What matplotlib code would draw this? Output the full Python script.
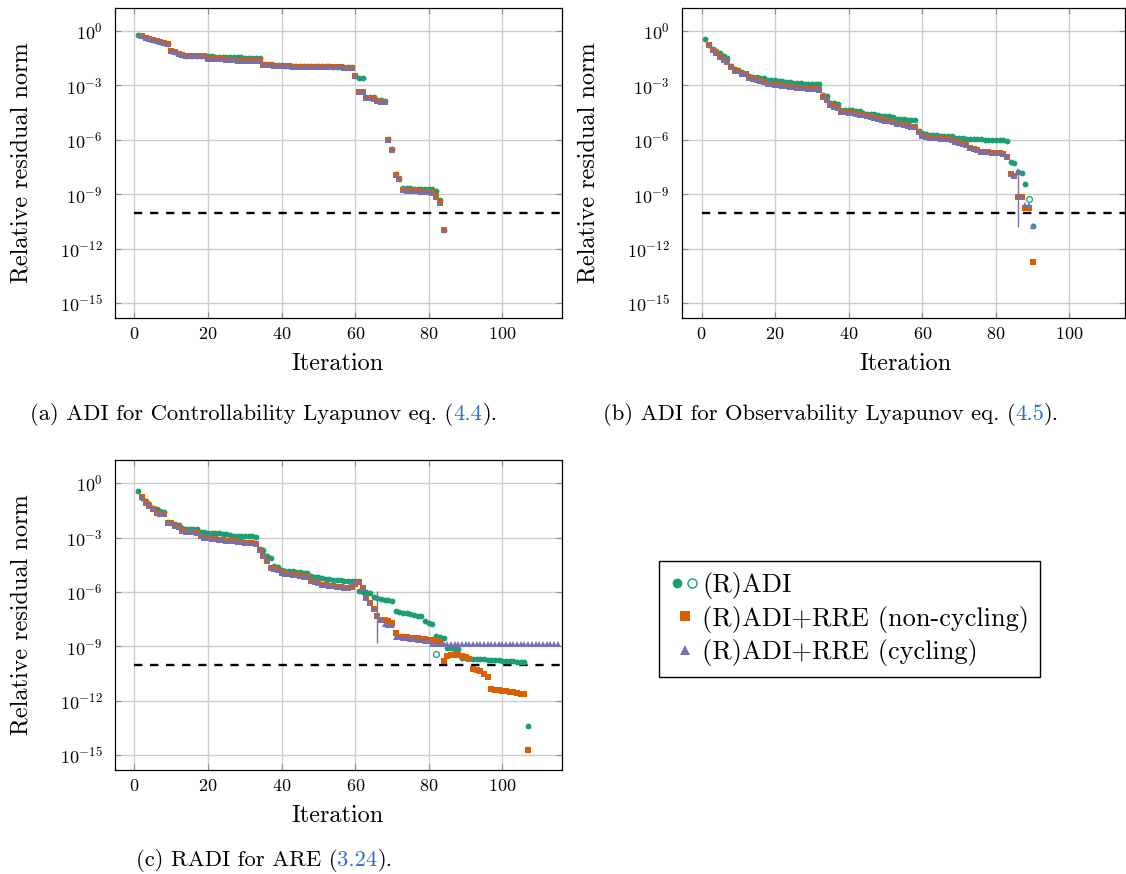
import matplotlib
matplotlib.use('Agg')
import matplotlib.pyplot as plt
import numpy as np
from matplotlib.legend_handler import HandlerTuple
from matplotlib.lines import Line2D
from matplotlib.ticker import NullLocator

plt.rcParams['font.family'] = 'serif'
plt.rcParams['font.serif'] = ['cmr10']
plt.rcParams['mathtext.fontset'] = 'cm'
plt.rcParams['axes.unicode_minus'] = False
plt.rcParams['axes.formatter.use_mathtext'] = True

GREEN = '#1b9e77'
ORANGE = '#d95f02'
PURPLE = '#7570b3'
LINK = '#2a6fd3'

# residual histories, stored as log10 of the relative residual norm
# (R)ADI starts at iteration 1, the RRE variants at iteration 2

# (a) controllability Lyapunov equation
a_adi = [-0.22, -0.30, -0.36, -0.42, -0.50, -0.56, -0.62, -0.68, -0.74,
         -1.10, -1.15, -1.25, -1.32,
         -1.35, -1.36, -1.36, -1.37, -1.37, -1.38,
         -1.40, -1.40, -1.41, -1.41, -1.42, -1.42, -1.43, -1.44,
         -1.45, -1.45, -1.46, -1.46, -1.47, -1.47, -1.48,
         -1.80, -1.82, -1.84, -1.85, -1.86, -1.87,
         -1.90, -1.90, -1.91, -1.91, -1.92, -1.92, -1.93, -1.93, -1.94, -1.94,
         -1.95, -1.95, -1.95, -1.96, -1.96, -1.96, -1.97, -1.97, -1.97,
         -2.45, -2.57, -2.58,
         -3.62, -3.64, -3.66, -3.80, -3.82, -3.84,
         -5.95, -6.50, -7.90, -8.15,
         -8.65, -8.66, -8.67, -8.68, -8.69, -8.70, -8.71, -8.72, -8.73,
         -8.80, -9.30, -10.95]
a_rre = [-0.30, -0.37, -0.43, -0.50, -0.56, -0.62, -0.68, -0.72,
         -1.10, -1.16, -1.26, -1.33,
         -1.36, -1.37, -1.38, -1.38, -1.39, -1.40,
         -1.54, -1.55, -1.55, -1.56, -1.56, -1.57,
         -1.62, -1.62, -1.63, -1.63, -1.64, -1.64, -1.65, -1.65, -1.66,
         -1.86, -1.88, -1.89, -1.90, -1.91, -1.92,
         -1.95, -1.95, -1.96, -1.96, -1.97, -1.97, -1.97, -1.98, -1.98, -1.98,
         -1.99, -1.99, -1.99, -2.00, -2.00, -2.00, -2.01, -2.01, -2.01,
         -2.45, -3.35, -3.36,
         -3.68, -3.70, -3.72, -3.88, -3.90, -3.92,
         -5.98, -6.55, -7.92, -8.17,
         -8.78, -8.80, -8.81, -8.82, -8.84, -8.85, -8.86, -8.88, -8.90,
         -9.14, -9.47, -10.98]
a_cyc = list(a_rre)

# (b) observability Lyapunov equation
b_adi = [-0.44, -0.78, -1.00, -1.12, -1.22, -1.35, -1.48,
         -1.90, -2.08, -2.14, -2.28, -2.34,
         -2.50, -2.52, -2.54, -2.56, -2.58,
         -2.68, -2.70, -2.72, -2.74, -2.76, -2.78, -2.80,
         -2.84, -2.86, -2.88, -2.89, -2.90, -2.92, -2.93, -2.94,
         -3.50, -3.58, -3.96, -3.98, -4.00,
         -4.34, -4.35, -4.36, -4.37, -4.38, -4.40,
         -4.54, -4.55, -4.56, -4.58, -4.60,
         -4.66, -4.68, -4.70, -4.72,
         -4.85, -4.86, -4.87, -4.88, -4.90, -4.92,
         -5.52, -5.62,
         -5.68, -5.70, -5.72, -5.74, -5.76, -5.77, -5.78, -5.80,
         -5.90, -5.91, -5.92, -5.93, -5.94, -5.95, -5.96, -5.97, -5.98,
         -5.99, -6.00, -6.01, -6.02, -6.03, -6.05,
         -7.22, -7.25, -7.76, -7.82, -8.40]
b_rre = [-0.77, -1.05, -1.22, -1.42, -1.60, -1.70,
         -1.97, -2.18, -2.20, -2.36, -2.38,
         -2.60, -2.65, -2.70, -2.75, -2.80,
         -2.90, -2.93, -2.96, -2.99, -3.02, -3.05, -3.07,
         -3.10, -3.12, -3.14, -3.16, -3.18, -3.20, -3.22, -3.25,
         -3.65, -3.80, -4.10, -4.18, -4.24,
         -4.45, -4.48, -4.51, -4.54, -4.57, -4.60,
         -4.65, -4.70, -4.75, -4.80, -4.85,
         -4.90, -4.93, -4.96, -5.00,
         -5.10, -5.14, -5.18, -5.22, -5.26, -5.30,
         -5.55, -5.80,
         -5.85, -5.87, -5.89, -5.91, -5.93, -5.95, -5.97, -6.00,
         -6.10, -6.16, -6.22, -6.28,
         -6.45, -6.52, -6.58, -6.65,
         -6.67, -6.68, -6.70, -6.71, -6.73,
         -6.80, -6.95,
         -7.90, -8.00, -9.14, -9.14, -9.76, -9.76, -12.75]
b_cyc = b_rre[:82] + [-7.85, -8.00, -7.70, -9.14, -9.60, -9.60, -10.75]
b_open_it = [89]
b_open = [-9.25]
b_adi_last_it = [90]
b_adi_last = [-10.75]
b_bar_it, b_bar_lo, b_bar_hi = [86], [-10.8], [-7.6]

# (c) algebraic Riccati equation
c_adi = [-0.46, -0.80, -1.00, -1.15, -1.35, -1.45, -1.55, -1.60,
         -2.15, -2.20, -2.28, -2.32,
         -2.50, -2.51, -2.52, -2.54, -2.55,
         -2.70, -2.72, -2.73, -2.74, -2.76, -2.77, -2.78, -2.80,
         -2.88, -2.89, -2.90, -2.91, -2.92, -2.93, -2.94, -2.95,
         -3.62, -3.70, -4.00, -4.13, -4.58, -4.62,
         -4.80, -4.82, -4.84, -4.86, -4.88, -4.90, -4.93, -4.96,
         -5.12, -5.15, -5.18, -5.22, -5.26, -5.30,
         -5.33, -5.34, -5.36, -5.37, -5.38, -5.40, -5.42,
         -5.97, -6.00, -6.03, -6.06,
         -6.30, -6.34, -6.38, -6.42, -6.46, -6.50,
         -7.05, -7.10, -7.14, -7.18, -7.22, -7.26, -7.30, -7.33,
         -7.60, -7.70, -7.79,
         -8.43, -8.47, -8.52,
         -9.07, -9.10, -9.13, -9.16,
         -9.62, -9.64, -9.65, -9.67, -9.68, -9.70, -9.71, -9.73, -9.74,
         -9.76, -9.77, -9.79, -9.80, -9.82, -9.83, -9.84, -9.85, -9.86,
         -13.40]
c_rre = [-0.79, -1.10, -1.25, -1.43, -1.65, -1.68, -1.70,
         -2.20, -2.22, -2.38, -2.40,
         -2.66, -2.68, -2.70, -2.72, -2.75,
         -2.94, -3.00,
         -3.03, -3.06, -3.09, -3.12, -3.15, -3.18, -3.20,
         -3.22, -3.24, -3.26, -3.28, -3.30, -3.32, -3.35,
         -3.67, -4.04, -4.32, -4.68, -4.72, -4.77,
         -4.96, -4.99, -5.02, -5.06, -5.09, -5.13, -5.17, -5.20,
         -5.42, -5.46, -5.50,
         -5.60, -5.63, -5.66, -5.69, -5.72, -5.74, -5.77, -5.80,
         -5.70, -5.58, -5.45,
         -5.78, -6.34, -6.60, -6.92, -7.33,
         -7.52, -7.57, -7.62, -7.69,
         -8.24,
         -8.46, -8.48, -8.50, -8.52, -8.54, -8.56, -8.58, -8.60, -8.62,
         -8.66, -8.70, -8.74,
         -9.80,
         -9.55, -9.45, -9.47, -9.50, -9.55, -9.60, -9.68,
         -10.26, -10.30, -10.35, -10.50, -10.70,
         -11.36, -11.38, -11.41, -11.44, -11.47, -11.50, -11.53, -11.56,
         -11.60, -11.63,
         -14.69]
c_cyc = c_rre[:57] + [-5.62, -5.48, -5.40, -5.77, -6.32, -6.62, -6.95, -7.33,
                      -7.55, -7.79, -7.80, -7.80,
                      -8.46, -8.49, -8.52, -8.55, -8.58, -8.61, -8.64, -8.67,
                      -8.70, -8.72] + [-8.88] * 35
c_open_it = [82]
c_open = [-9.43]
c_bar_it, c_bar_lo, c_bar_hi = [66], [-8.79], [-5.96]

tolerance = 1e-10
x_ticks = [0, 20, 40, 60, 80, 100]
y_ticks = [0, -3, -6, -9, -12, -15]

W, H = 1126, 874
fig = plt.figure(figsize=(W / 100, H / 100), dpi=100)


def px_axes(left, top, width, height):
    return fig.add_axes([left / W, 1 - (top + height) / H, width / W, height / H])


def draw(ax, adi, rre, cyc, open_it=None, open_val=None, extra=None, bar=None,
         xmax=116.2):
    ax.plot(np.arange(1, len(adi) + 1), 10.0 ** np.array(adi), 'o', color=GREEN,
            ms=4.2, mew=0, zorder=3)
    if extra is not None:
        ax.plot(extra[0], 10.0 ** np.array(extra[1]), 'o', color=GREEN, ms=4.2, mew=0, zorder=3)
    if open_it is not None:
        ax.plot(open_it, 10.0 ** np.array(open_val), 'o', mfc='white', mec=GREEN,
                ms=4.2, mew=0.9, zorder=3)
    ax.plot(np.arange(2, len(rre) + 2), 10.0 ** np.array(rre), 's', color=ORANGE,
            ms=4.2, mew=0, zorder=4)
    ax.plot(np.arange(2, len(cyc) + 2), 10.0 ** np.array(cyc), '^', color=PURPLE,
            ms=4.2, mew=0, zorder=5)
    if bar is not None:
        ax.vlines(bar[0], 10.0 ** np.array(bar[1]), 10.0 ** np.array(bar[2]),
                  color=PURPLE, lw=1.0, zorder=5)
    # stopping tolerance, drawn from iteration 0 to the right border
    ax.hlines(tolerance, x_ticks[0], xmax, colors='k', lw=1.7,
              linestyles=[(0, (3.5, 3.3))], zorder=2)

    ax.set_yscale('log')
    ax.set_xlim(-5.3, xmax)
    ax.set_ylim(10 ** -15.81, 10 ** 1.27)
    ax.set_xticks(x_ticks)
    ax.set_yticks([10.0 ** k for k in y_ticks])
    ax.yaxis.set_minor_locator(NullLocator())
    ax.grid(True, color='#cccccc', lw=1.0)
    ax.set_axisbelow(True)
    ax.tick_params(direction='in', top=True, right=True, length=4, width=0.8,
                   color='#8c8c8c', labelsize=13)
    ax.tick_params(axis='y', pad=9)
    ax.tick_params(axis='x', pad=6)
    for s in ax.spines.values():
        s.set_linewidth(0.9)


ax_a = px_axes(115, 8, 447, 310)
ax_b = px_axes(682, 8, 443, 310)
ax_c = px_axes(115, 460, 447, 310)

draw(ax_a, a_adi, a_rre, a_cyc)
draw(ax_b, b_adi, b_rre, b_cyc, b_open_it, b_open, extra=(b_adi_last_it, b_adi_last),
     bar=(b_bar_it, b_bar_lo, b_bar_hi), xmax=115.1)
draw(ax_c, c_adi, c_rre, c_cyc, c_open_it, c_open, bar=(c_bar_it, c_bar_lo, c_bar_hi))

label_size = 17.5
for dx, dy in [(0, 0), (567, 0), (0, 452)]:
    fig.text((338 + dx) / W, 1 - (364 + dy) / H, 'Iteration', ha='center', va='center',
             fontsize=label_size)
    fig.text((21 + dx) / W, 1 - (163 + dy) / H, 'Relative residual norm', ha='center',
             va='center', rotation=90, fontsize=label_size)

renderer = fig.canvas.get_renderer()
caption_size = 16.3


def caption(xc, baseline, parts):
    items = [fig.text(0, 1 - baseline / H, s, color=c, fontsize=caption_size,
                      ha='left', va='baseline') for s, c in parts]
    widths = [t.get_window_extent(renderer).width for t in items]
    x = xc - sum(widths) / 2
    for t, w in zip(items, widths):
        t.set_x(x / W)
        x += w


caption(264, 420, [('(a) ADI for Controllability Lyapunov eq. (', 'k'), ('4.4', LINK), (').', 'k')])
caption(831, 420, [('(b) ADI for Observability Lyapunov eq. (', 'k'), ('4.5', LINK), (').', 'k')])
caption(264, 866, [('(c) RADI for ARE (', 'k'), ('3.24', LINK), (').', 'k')])

h_fill = Line2D([], [], ls='none', marker='o', color=GREEN, ms=7, mew=0)
h_open = Line2D([], [], ls='none', marker='o', mfc='white', mec=GREEN, ms=6.5, mew=1.0)
h_sq = Line2D([], [], ls='none', marker='s', color=ORANGE, ms=7.5, mew=0)
h_tri = Line2D([], [], ls='none', marker='^', color=PURPLE, ms=6.5, mew=0)
leg = fig.legend([(h_fill, h_open), h_sq, h_tri],
                 ['(R)ADI', '(R)ADI+RRE (non-cycling)', '(R)ADI+RRE (cycling)'],
                 handler_map={tuple: HandlerTuple(ndivide=None, pad=0.0)},
                 loc='upper left', bbox_to_anchor=(659 / W, 1 - 561 / H),
                 borderaxespad=0, fontsize=19, frameon=True, fancybox=False,
                 edgecolor='k', framealpha=1, handlelength=1.1, handletextpad=0.12,
                 labelspacing=0.25, borderpad=0.42)
leg.get_frame().set_linewidth(1.0)

fig.savefig('out.png', dpi=100)
